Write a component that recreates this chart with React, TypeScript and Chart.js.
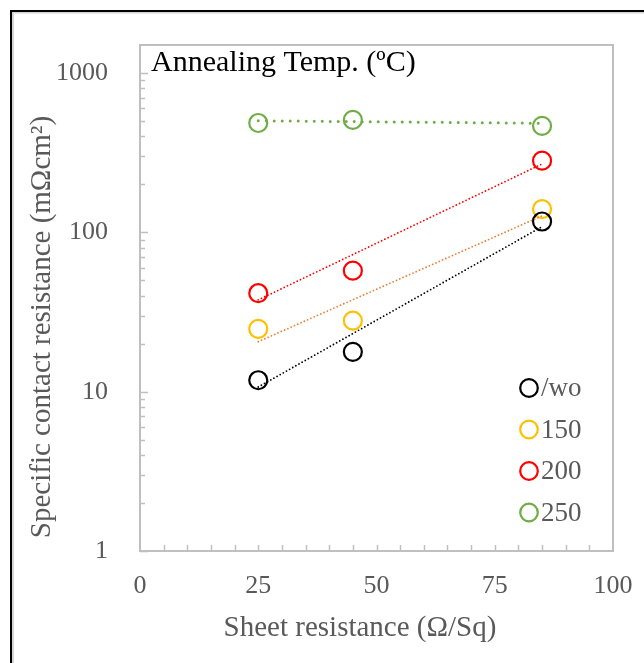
import React, { useEffect, useRef } from "react";
import { Chart, registerables } from "chart.js";
Chart.register(...registerables);

// ---- data ----
const sheetRes = [25, 45, 85];
const rcWo = [11.8, 17.8, 117];
const rc150 = [24.8, 27.9, 140];
const rc200 = [41.5, 57.5, 282];
const rc250 = [486, 508, 466];
const trendX = [25, 85];
const trendWo = [10.7, 108.6];
const trend150 = [20.6, 127];
const trend200 = [37.7, 269];
const trend250 = [502, 484];
const seriesLabels = ["/wo", "150", "200", "250"];
const markerColors = ["#000000", "#FFC000", "#FF0000", "#70AD47"];
const trendColors = ["#000000", "#ED7D31", "#FF0000", "#70AD47"];
const xTickValues = [0, 25, 50, 75, 100];
const yTickValues = [1, 10, 100, 1000];
const chartTitle = "Annealing Temp. (ºC)";
const xTitle = "Sheet resistance (Ω/Sq)";
const yTitle = "Specific contact resistance (mΩcm²)";

const SERIF = "'Liberation Serif', 'Times New Roman', serif";
const GREY = "#595959";

const decorPlugin = {
  id: "decor",
  beforeDraw(chart: any) {
    const { ctx, width, height } = chart;
    ctx.save();
    ctx.fillStyle = "#ffffff";
    ctx.fillRect(0, 0, width, height);
    // outer frame
    ctx.fillStyle = "#d4d4d4";
    ctx.fillRect(12, 12, 2, height);
    ctx.fillRect(12, 12, width, 1.5);
    ctx.fillStyle = "#000000";
    ctx.fillRect(10, 10, 2, height);
    ctx.fillRect(10, 10, width, 2);
    ctx.restore();
  },
  beforeDatasetsDraw(chart: any) {
    const { ctx, chartArea: a, scales } = chart;
    const xs = scales.x;
    const ys = scales.y;
    ctx.save();
    ctx.strokeStyle = "#BFBFBF";
    ctx.lineWidth = 2;
    ctx.strokeRect(a.left, a.top, a.right - a.left, a.bottom - a.top);
    ctx.lineWidth = 1.5;
    ctx.beginPath();
    for (let k = 0; k <= 2; k++) {
      for (let m = 1; m <= 9; m++) {
        const v = m * Math.pow(10, k);
        const py = Math.round(ys.getPixelForValue(v)) + 0.5;
        const len = m === 1 ? 8 : 5;
        ctx.moveTo(a.left, py);
        ctx.lineTo(a.left + len, py);
      }
    }
    const py1000 = Math.round(ys.getPixelForValue(1000)) + 0.5;
    ctx.moveTo(a.left, py1000);
    ctx.lineTo(a.left + 8, py1000);
    for (let v = 5; v < 100; v += 5) {
      const px = Math.round(xs.getPixelForValue(v)) + 0.5;
      ctx.moveTo(px, a.bottom);
      ctx.lineTo(px, a.bottom - 6);
    }
    ctx.stroke();
    ctx.restore();
  },
  afterDraw(chart: any) {
    const { ctx, chartArea: a } = chart;
    ctx.save();
    // chart title inside plot
    ctx.fillStyle = "#000000";
    ctx.font = `30px ${SERIF}`;
    ctx.textAlign = "left";
    ctx.textBaseline = "alphabetic";
    ctx.fillText(chartTitle, a.left + 11, a.top + 26);
    // axis titles
    ctx.fillStyle = GREY;
    ctx.font = `29px ${SERIF}`;
    ctx.textAlign = "center";
    ctx.textBaseline = "middle";
    ctx.fillText(xTitle, 360, 628);
    ctx.save();
    ctx.translate(42, 327);
    ctx.rotate(-Math.PI / 2);
    ctx.fillText(yTitle, 0, 0);
    ctx.restore();
    // legend inside plot
    const lx = a.right - 84;
    const ly0 = a.bottom - 163;
    const step = 41.5;
    ctx.font = `27px ${SERIF}`;
    ctx.textAlign = "left";
    ctx.textBaseline = "middle";
    seriesLabels.forEach((lab, i) => {
      const y = ly0 + i * step;
      ctx.beginPath();
      ctx.strokeStyle = markerColors[i];
      ctx.lineWidth = 2.2;
      ctx.arc(lx, y, 8.8, 0, Math.PI * 2);
      ctx.stroke();
      ctx.fillStyle = GREY;
      ctx.fillText(lab, lx + 12, y + 1);
    });
    ctx.restore();
  },
};

export default function App() {
  const ref = useRef<HTMLCanvasElement | null>(null);
  useEffect(() => {
    document.body.style.margin = "0";
    const canvas = ref.current;
    if (!canvas) return;
    const markerSets = [rcWo, rc150, rc200, rc250];
    const trendSets = [trendWo, trend150, trend200, trend250];
    const datasets: any[] = [];
    markerSets.forEach((vals, i) => {
      datasets.push({
        label: seriesLabels[i],
        data: sheetRes.map((x, j) => ({ x, y: vals[j] })),
        showLine: false,
        pointStyle: "circle",
        pointRadius: 9,
        pointBorderWidth: 2.2,
        pointBorderColor: markerColors[i],
        pointBackgroundColor: "rgba(0,0,0,0)",
        borderColor: markerColors[i],
        order: 2,
      });
    });
    trendSets.forEach((vals, i) => {
      const green = i === 3;
      datasets.push({
        label: "trend " + seriesLabels[i],
        data: trendX.map((x, j) => ({ x, y: vals[j] })),
        showLine: true,
        pointRadius: 0,
        borderColor: trendColors[i],
        borderWidth: green ? 3 : 1.8,
        borderDash: green ? [0, 8] : [0, 3.6],
        borderCapStyle: "round",
        fill: false,
        order: 1,
      });
    });
    const tickFont = { family: SERIF, size: 26 };
    const chart = new Chart(canvas, {
      type: "scatter",
      data: { datasets },
      plugins: [decorPlugin],
      options: {
        animation: false,
        responsive: false,
        devicePixelRatio: 1,
        events: [],
        layout: { padding: { left: 0, top: 45, right: 31, bottom: 0 } },
        plugins: { legend: { display: false }, tooltip: { enabled: false } },
        scales: {
          x: {
            type: "linear",
            min: 0,
            max: 100,
            afterBuildTicks: (s: any) => {
              s.ticks = xTickValues.map((v) => ({ value: v }));
            },
            ticks: { font: tickFont, color: GREY, padding: 12, maxRotation: 0, callback: (v: any) => String(v) },
            grid: { display: false },
            border: { display: false },
            title: { display: false },
            afterFit: (s: any) => {
              s.height = 112;
              s.paddingLeft = 0;
              s.paddingRight = 0;
            },
          },
          y: {
            type: "logarithmic",
            min: 1,
            max: 1500,
            afterBuildTicks: (s: any) => {
              s.ticks = yTickValues.map((v) => ({ value: v }));
            },
            ticks: { font: tickFont, color: GREY, padding: 24, callback: (v: any) => String(v) },
            grid: { display: false },
            border: { display: false },
            title: { display: false },
            afterFit: (s: any) => {
              s.width = 140;
              s.paddingTop = 0;
              s.paddingBottom = 0;
            },
          },
        },
      },
    });
    return () => chart.destroy();
  }, []);
  return (
    <div style={{ position: "relative", width: 644, height: 663 }}>
      <canvas ref={ref} width={644} height={663} style={{ display: "block" }} />
    </div>
  );
}
